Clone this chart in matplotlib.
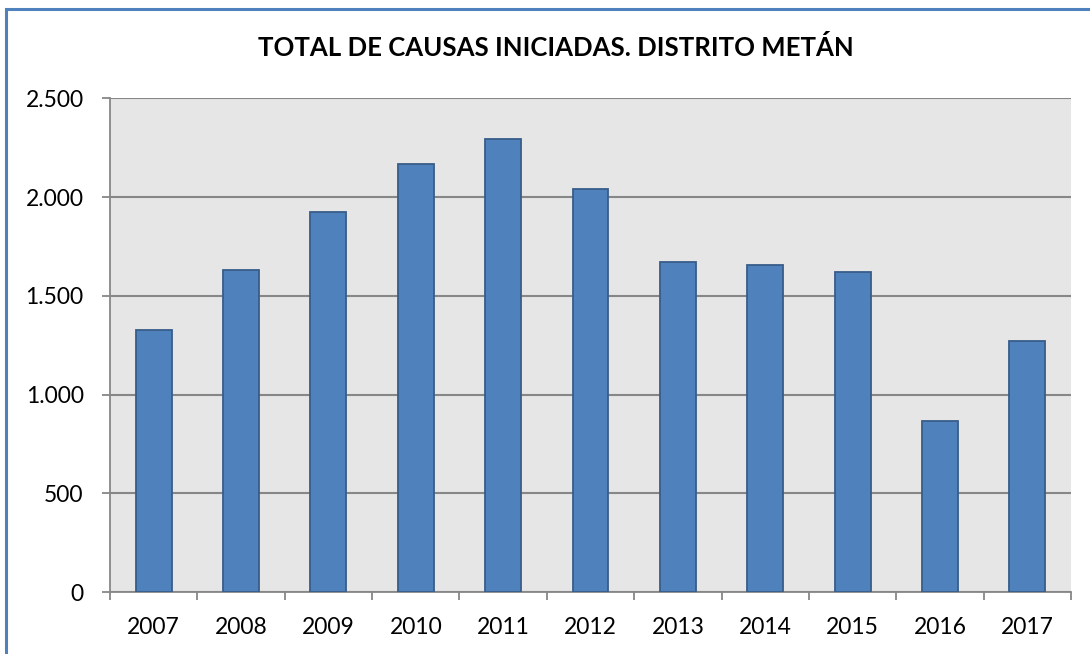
import matplotlib
matplotlib.use('Agg')
import matplotlib.pyplot as plt
from matplotlib.patches import Rectangle

years = ['2007', '2008', '2009', '2010', '2011', '2012', '2013', '2014', '2015', '2016', '2017']
causas = [1326, 1629, 1925, 2165, 2293, 2040, 1671, 1658, 1620, 868, 1274]
y_ticks = [0, 500, 1000, 1500, 2000, 2500]
y_labels = ['0', '500', '1.000', '1.500', '2.000', '2.500']

plt.rcParams['font.family'] = ['Lato', 'DejaVu Sans']

fig = plt.figure(figsize=(10.9, 6.54), dpi=100)
ax = fig.add_axes([110 / 1090, 1 - 592.3 / 654, 961 / 1090, (592.3 - 98.3) / 654])

# outer chart border (only top and left are visible in the crop)
fig.patches.append(Rectangle((6 / 1090, -0.1), 1.2, 1 - 8.5 / 654 + 0.1,
                             transform=fig.transFigure, fill=False,
                             edgecolor='#4F81BD', linewidth=2.2, zorder=0))

ax.set_facecolor('#E6E6E6')
x = list(range(len(years)))
ax.bar(x, causas, width=0.41, color='#4F81BD', edgecolor='#385D8A', linewidth=1.3, zorder=3)

ax.set_xlim(-0.5, len(years) - 0.5)
ax.set_ylim(0, 2500)
ax.set_yticks(y_ticks)
ax.set_yticklabels(y_labels)
ax.set_xticks(x)
ax.set_xticklabels(years)
ax.set_xticks([i - 0.5 for i in range(len(years) + 1)], minor=True)

ax.grid(axis='y', color='#878787', linewidth=1.5, zorder=1)
ax.tick_params(axis='y', length=6, width=1.3, color='#878787', pad=13, labelsize=16.5)
ax.tick_params(axis='x', which='major', length=0, pad=18, labelsize=16.5)
ax.tick_params(axis='x', which='minor', length=6, width=1.3, color='#878787')

for s in ['top', 'right']:
    ax.spines[s].set_visible(False)
for s in ['left', 'bottom']:
    ax.spines[s].set_color('#878787')
    ax.spines[s].set_linewidth(1.3)

fig.text(0.5 * (262 + 849) / 1090, 1 - 47 / 654, 'TOTAL DE CAUSAS INICIADAS. DISTRITO METÁN',
         ha='center', va='center', fontsize=18.5, fontweight='bold')

fig.savefig('out.png', dpi=100)
